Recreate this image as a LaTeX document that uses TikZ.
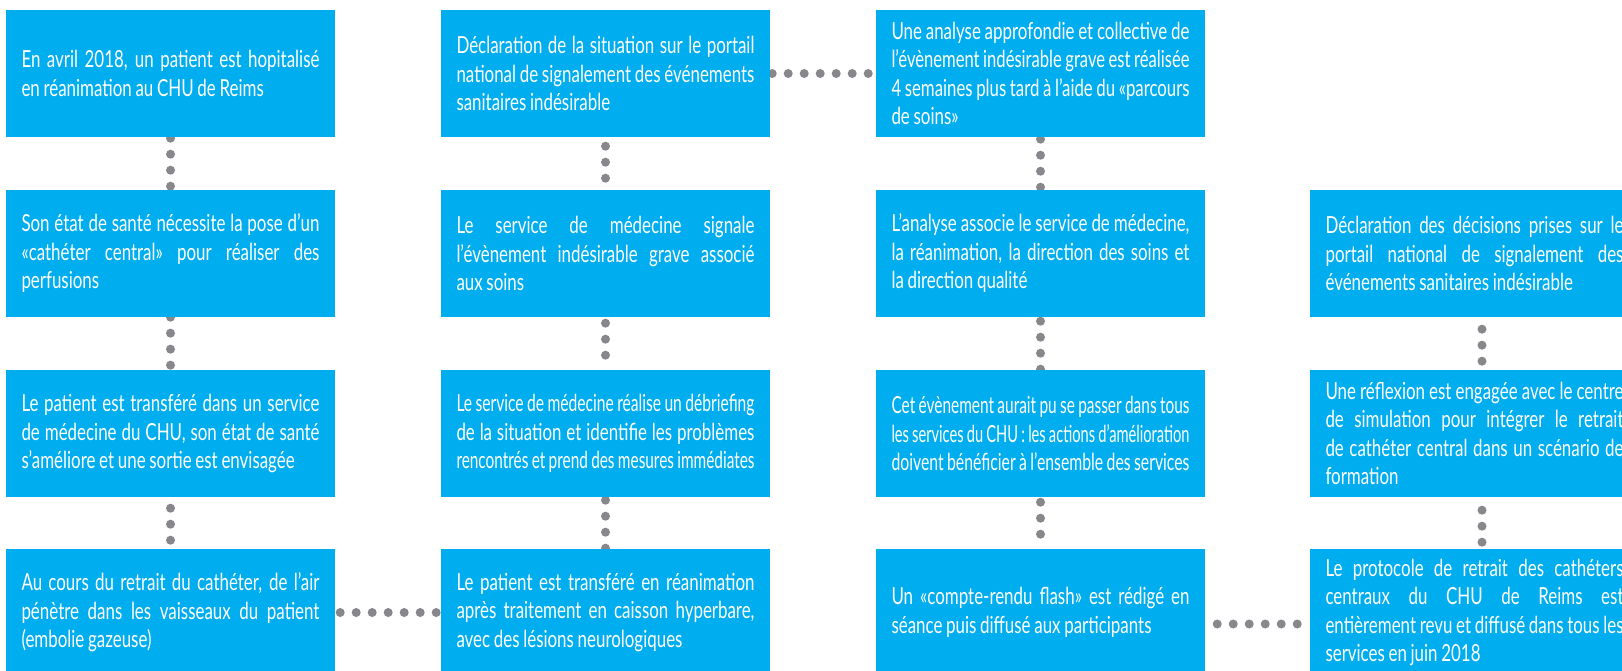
\documentclass[tikz,border=0pt]{standalone}
\usepackage{fontspec}
\setmainfont{Lato}[FakeStretch=0.72,WordSpace=0.85]
\usetikzlibrary{backgrounds}

\definecolor{boxblue}{RGB}{0,174,239}
\definecolor{dotgray}{RGB}{136,136,140}
\newcommand{\etapefont}{\fontsize{23.5}{28.5}\selectfont}

% ligne justifiee, resserree si trop longue
\newsavebox{\lignebox}
\newcommand{\ligne}[1]{\sbox{\lignebox}{#1}%
    \ifdim\wd\lignebox>\linewidth\resizebox{\linewidth}{\height}{\usebox{\lignebox}}%
    \else\hbox to\linewidth{#1}\fi\par}

\tikzset{
    etape/.style={fill=boxblue, text=white, text width=298pt, inner xsep=15.5pt, inner ysep=0pt,
        minimum height=127pt, align=justify, font=\etapefont},
    pointille/.style={draw=dotgray, line width=9pt, line cap=round, dash pattern=on 0pt off 16pt}
}

\begin{document}
\begin{tikzpicture}[x=1pt,y=-1pt]
    \useasboundingbox (0,0) rectangle (1622,670);
    \clip (0,0) rectangle (1622,670);

    % Colonne 1
    \node[etape] (c1r1) at (170.5,73.5) {\ligne{En avril 2018, un patient est hopitalisé}en réanimation au CHU de Reims};
    \node[etape] (c1r2) at (170.5,253.5) {\ligne{Son état de santé nécessite la pose d’un}\ligne{«cathéter central» pour réaliser des}perfusions};
    \node[etape] (c1r3) at (170.5,433.5) {\ligne{Le patient est transféré dans un service}\ligne{de médecine du CHU, son état de santé}s’améliore et une sortie est envisagée};
    \node[etape] (c1r4) at (170.5,612.5) {\ligne{Au cours du retrait du cathéter, de l’air}\ligne{pénètre dans les vaisseaux du patient}(embolie gazeuse)};

    % Colonne 2
    \node[etape] (c2r1) at (605.5,73.5) {\ligne{Déclaration de la situation sur le portail}\ligne{national de signalement des événements}sanitaires indésirable};
    \node[etape] (c2r2) at (605.5,253.5) {\ligne{Le service de médecine signale}\ligne{l’évènement indésirable grave associé}aux soins};
    \node[etape] (c2r3) at (605.5,433.5) {\ligne{Le service de médecine réalise un débriefing}\ligne{de la situation et identifie les problèmes}\ligne{rencontrés et prend des mesures immédiates}};
    \node[etape] (c2r4) at (605.5,612.5) {\ligne{Le patient est transféré en réanimation}\ligne{après traitement en caisson hyperbare,}avec des lésions neurologiques};

    % Colonne 3
    \node[etape] (c3r1) at (1040.5,73.5) {\ligne{Une analyse approfondie et collective de}\ligne{l’évènement indésirable grave est réalisée}\ligne{4 semaines plus tard à l’aide du «parcours}de soins»};
    \node[etape] (c3r2) at (1040.5,253.5) {\ligne{L’analyse associe le service de médecine,}\ligne{la réanimation, la direction des soins et}la direction qualité};
    \node[etape] (c3r3) at (1040.5,433.5) {\ligne{Cet évènement aurait pu se passer dans tous}\ligne{les services du CHU : les actions d’amélioration}\ligne{doivent bénéficier à l’ensemble des services}};
    \node[etape] (c3r4) at (1040.5,612.5) {\ligne{Un «compte-rendu flash» est rédigé en}séance puis diffusé aux participants};

    % Colonne 4
    \node[etape] (c4r2) at (1474.5,253.5) {\ligne{Déclaration des décisions prises sur le}\ligne{portail national de signalement des}événements sanitaires indésirable};
    \node[etape] (c4r3) at (1474.5,433.5) {\ligne{Une réflexion est engagée avec le centre}\ligne{de simulation pour intégrer le retrait}\ligne{de cathéter central dans un scénario de}formation};
    \node[etape] (c4r4) at (1474.5,612.5) {\ligne{Le protocole de retrait des cathéters}\ligne{centraux du CHU de Reims est}\ligne{entièrement revu et diffusé dans tous les}services en juin 2018};

    % Pointilles
    \begin{scope}[on background layer]
        \draw[pointille] ([yshift=-1pt]c1r1.south) -- (c1r2.north);
        \draw[pointille] (c1r2.south) -- (c1r3.north);
        \draw[pointille] ([yshift=-11pt]c1r3.south) -- (c1r4.north);
        \draw[pointille] ([xshift=5pt]c1r4.east) -- (c2r4.west);
        \draw[pointille] ([yshift=-3pt]c2r3.south) -- (c2r4.north);
        \draw[pointille] ([yshift=-6pt]c2r2.south) -- (c2r3.north);
        \draw[pointille] ([yshift=-9pt]c2r1.south) -- (c2r2.north);
        \draw[pointille] ([xshift=2pt]c2r1.east) -- (c3r1.west);
        \draw[pointille] ([yshift=-2pt]c3r1.south) -- (c3r2.north);
        \draw[pointille] ([yshift=-4pt]c3r2.south) -- (c3r3.north);
        \draw[pointille] ([yshift=-5pt]c3r3.south) -- (c3r4.north);
        \draw[pointille] ([xshift=12pt,yshift=-11.5pt]c3r4.east) -- ([yshift=-11.5pt]c4r4.west);
        \draw[pointille] ([xshift=7.5pt,yshift=-13pt]c4r3.south) -- ([xshift=7.5pt]c4r4.north);
        \draw[pointille] ([xshift=7.5pt,yshift=-12pt]c4r2.south) -- ([xshift=7.5pt]c4r3.north);
    \end{scope}
\end{tikzpicture}
\end{document}
